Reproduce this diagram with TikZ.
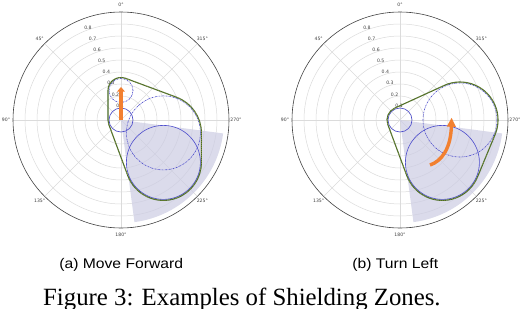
\documentclass[tikz,border=0pt]{standalone}
\usepackage{fontspec}
\usepackage{graphicx}
\setmainfont{Liberation Serif}
\newfontfamily\dejavu{DejaVu Sans}
\newfontfamily\libsans{Liberation Sans}
\usetikzlibrary{calc,arrows.meta}
\definecolor{gridgray}{gray}{0.86}
\definecolor{axisgray}{gray}{0.25}
\definecolor{circblue}{rgb}{0.30,0.30,0.80}
\definecolor{wedgecol}{rgb}{0.80,0.80,0.89}
\definecolor{hullgreen}{rgb}{0.28,0.42,0.16}
\definecolor{hullolive}{rgb}{0.66,0.64,0.28}
\definecolor{arroworange}{rgb}{0.95,0.50,0.19}
\definecolor{ticktext}{gray}{0.25}
\tikzset{
 gridline/.style={draw=gridgray, line width=0.5pt},
 outerring/.style={draw=axisgray, line width=0.6pt},
 sectorfill/.style={fill=wedgecol, fill opacity=0.7},
 solidcirc/.style={draw=circblue, line width=0.6pt},
 dashcirc/.style={draw=circblue, line width=0.6pt, dash pattern=on 1.6pt off 0.8pt on 0.4pt off 0.8pt},
 hull/.style={draw=hullgreen, line width=1.1pt, line join=round,
   postaction={draw=hullolive, line width=0.45pt, dash pattern=on 0.6pt off 1.4pt}},
 movearrow/.style={draw=arroworange, line width=3.4pt, -{Triangle[width=7.5pt,length=4.5pt]}},
 turnarrow/.style={draw=arroworange, line width=3.4pt, -{Triangle[width=8.5pt,length=9pt]}},
 anglabel/.style={font=\dejavu\fontsize{4.6}{5}\selectfont, text=ticktext, inner sep=0pt},
 rlabel/.style={font=\dejavu\fontsize{4.6}{5}\selectfont, text=ticktext, inner sep=0pt},
 subcap/.style={font=\libsans\fontsize{14}{16}\selectfont, inner sep=0pt, anchor=base},
 figcap/.style={font=\fontsize{24.8}{28}\selectfont, inner sep=0pt, anchor=base west},
}
\newcommand{\drawpolargrid}[1]{%
 \foreach \k in {1,...,8} {\draw[gridline] (#1-o) circle[radius=\k*12pt];}
 \foreach \a in {0,45,...,315} {\draw[gridline] (#1-o) -- ++(\a:108pt);}
 \draw[outerring] (#1-o) circle[radius=108pt];
 \foreach \t in {0,45,...,315} {\node[anglabel] (#1-t\t) at ($(#1-o)+({\t+90}:115pt)$) {\t°};}
}
\newcommand{\drawrlabels}[1]{%
 \foreach \k in {1,...,8} {\node[rlabel] (#1-r\k) at ($(#1-o)+(112.5:{\k*12pt})+(3.7pt,3.5pt)$) {0.\k};}
}
\newcommand{\drawsector}[1]{%
 \fill[sectorfill] (#1-o) -- ++(-82.5:103pt) arc[start angle=-82.5, end angle=-7.5, radius=103pt] -- cycle;
}
\begin{document}
\begin{tikzpicture}[x=1pt,y=1pt]
\useasboundingbox (0,0) rectangle (522,-308);
\fill[white] (0,0) rectangle (522,-308);
% ---------- (a) Move Forward ----------
\coordinate (a-o) at (121,-120);
\coordinate (a-c2) at (121,-90.5);
\coordinate (a-c3) at (163.4,-132.9);
\coordinate (a-c4) at (163.4,-162.4);
\coordinate (a-tip) at (121,-87);
\drawpolargrid{a}
\drawsector{a}
\drawrlabels{a}
\draw[solidcirc] (a-o) circle[radius=12pt];
\draw[dashcirc] (a-c2) circle[radius=12pt];
\draw[dashcirc] (a-c3) circle[radius=37pt];
\draw[solidcirc] (a-c4) circle[radius=37pt];
\draw[hull] ($(a-c2)+(69.64:13pt)$) arc[start angle=69.64, end angle=180, radius=13pt]
  -- ($(a-o)+(180:13pt)$) arc[start angle=180, end angle=200.36, radius=13pt]
  -- ($(a-c4)+(200.36:38pt)$) arc[start angle=200.36, end angle=360, radius=38pt]
  -- ($(a-c3)+(0:38pt)$) arc[start angle=0, end angle=69.64, radius=38pt] -- cycle;
\draw[movearrow] (a-o) -- (a-tip);
% ---------- (b) Turn Left ----------
\coordinate (b-o) at (400,-120);
\coordinate (b-c3) at (460,-120);
\coordinate (b-c4) at (442.4,-162.4);
\coordinate (b-as) at (430,-165);
\coordinate (b-at) at (451.6,-117.7);
\drawpolargrid{b}
\drawsector{b}
\drawrlabels{b}
\draw[solidcirc] (b-o) circle[radius=12pt];
\draw[dashcirc] (b-c3) circle[radius=37pt];
\draw[solidcirc] (b-c4) circle[radius=37pt];
\draw[hull] ($(b-o)+(114.62:13pt)$) arc[start angle=114.62, end angle=200.36, radius=13pt]
  -- ($(b-c4)+(200.36:38pt)$) arc[start angle=200.36, end angle=337.46, radius=38pt]
  -- ($(b-c3)+(-22.54:38pt)$) arc[start angle=-22.54, end angle=114.62, radius=38pt] -- cycle;
\draw[turnarrow] (b-as) .. controls (442,-161) and (450.8,-148) .. (b-at);
% ---------- captions ----------
\node[subcap] (capa) at (121.2,-268.3) {\scalebox{1.12}[1]{(a) Move Forward}};
\node[subcap] (capb) at (395.3,-268.3) {\scalebox{1.12}[1]{(b) Turn Left}};
\node[figcap] (figcap) at (43,-305.8) {Figure 3: Examples of Shielding Zones.};
\end{tikzpicture}
\end{document}
